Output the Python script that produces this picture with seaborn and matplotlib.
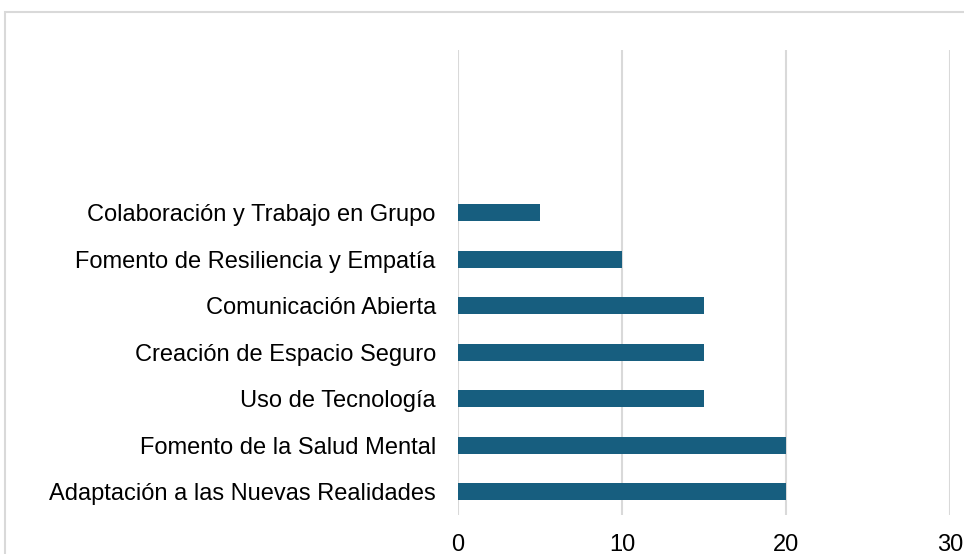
import matplotlib
matplotlib.use("Agg")
import matplotlib.pyplot as plt
import matplotlib.patches as mpatches
import pandas as pd
import seaborn as sns

categorias = [
    "Colaboración y Trabajo en Grupo",
    "Fomento de Resiliencia y Empatía",
    "Comunicación Abierta",
    "Creación de Espacio Seguro",
    "Uso de Tecnología",
    "Fomento de la Salud Mental",
    "Adaptación a las Nuevas Realidades",
]
valores = [5, 10, 15, 15, 15, 20, 20]
ticks_x = [0, 10, 20, 30]

sns.set_theme(style="white")
plt.rcParams["font.family"] = ["Liberation Sans", "DejaVu Sans"]

df = pd.DataFrame({"categoria": categorias, "valor": valores})

fig = plt.figure(figsize=(9.64, 5.54), dpi=100)
# marco gris claro del gráfico (tipo Excel)
fig.patches.append(mpatches.Rectangle((5 / 964, -0.1), 1.2, 1 - 12 / 554 + 0.1,
                                      transform=fig.transFigure, fill=False,
                                      edgecolor="#d9d9d9", linewidth=1.5))
ax = fig.add_axes([458 / 964, 39 / 554, (950 - 458) / 964, (504 - 39) / 554])

sns.barplot(data=df, x="valor", y="categoria", orient="h", color="#175e7f",
            saturation=1, width=0.36, linewidth=0, ax=ax)

ax.set_xlim(0, 30)
ax.set_ylim(6.5, -3.5)
ax.set_xticks(ticks_x)
ax.xaxis.grid(True, color="#d9d9d9", linewidth=1.5)
ax.set_axisbelow(True)
for s in ax.spines.values():
    s.set_visible(False)
ax.tick_params(axis="x", length=0, pad=14, labelsize=17, colors="black")
ax.tick_params(axis="y", length=0, pad=16, labelsize=17, colors="black")
ax.set_xlabel("")
ax.set_ylabel("")
ax.patch.set_alpha(0)

fig.savefig("out.png", dpi=100)
